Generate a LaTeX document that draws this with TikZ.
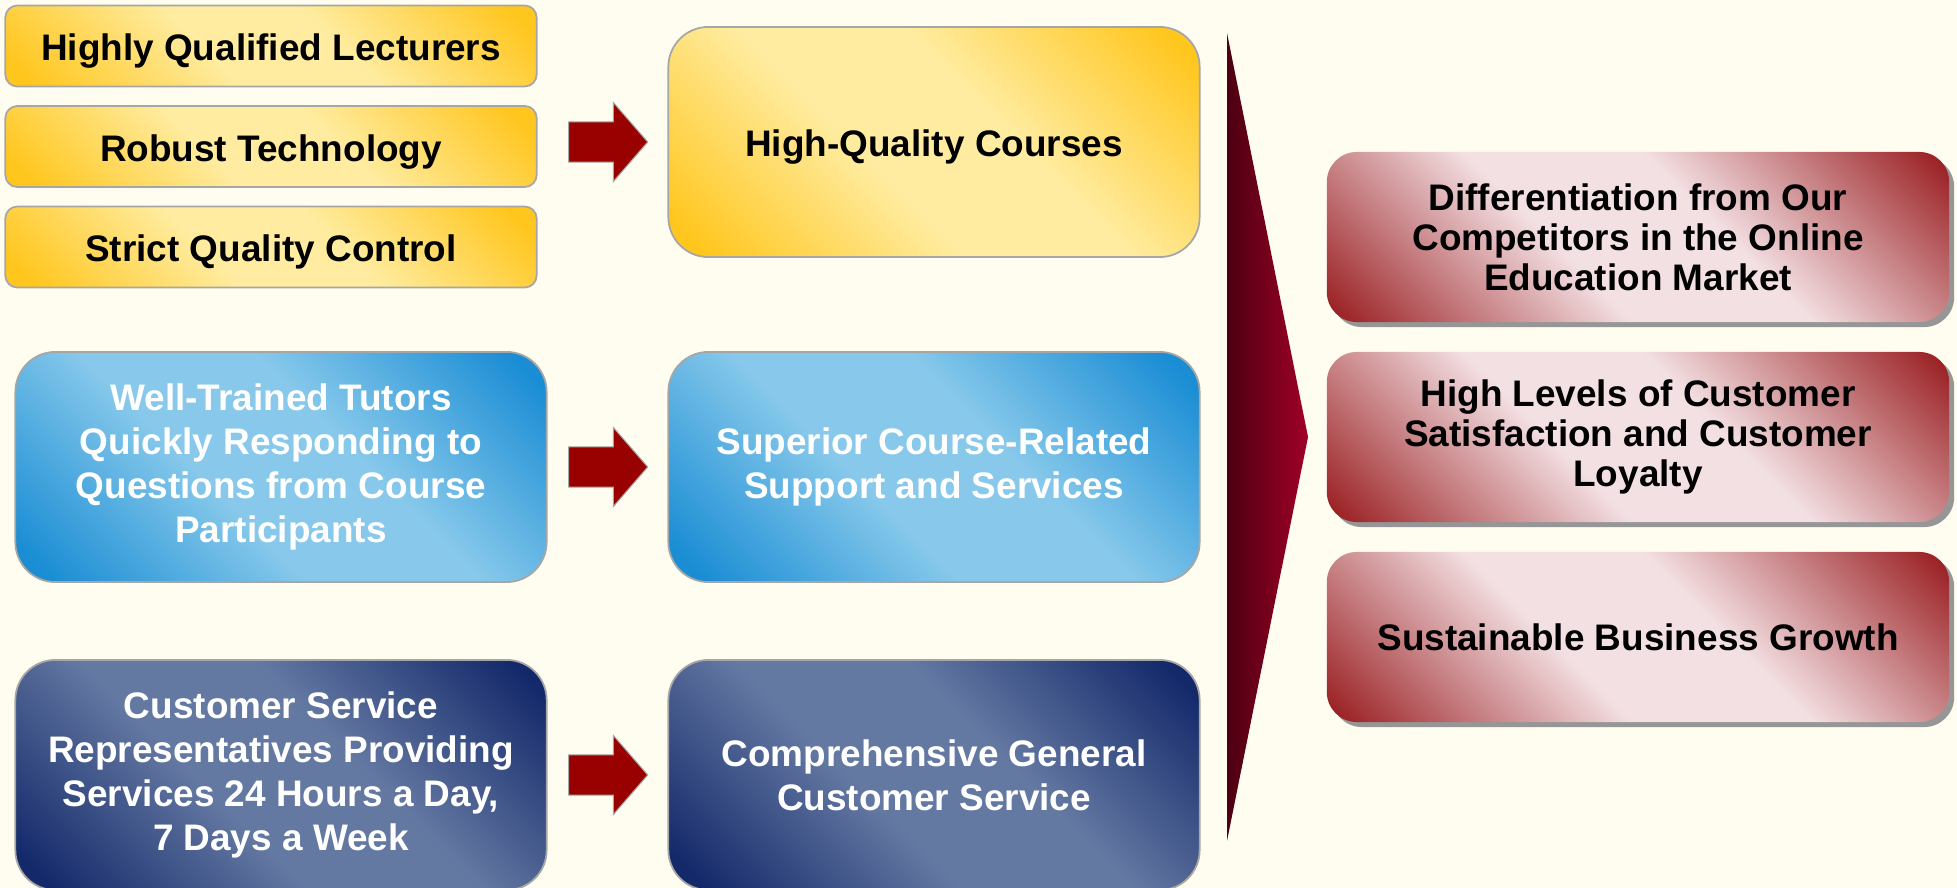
\documentclass[tikz,border=0pt]{standalone}
\usepackage{fontspec}
\setmainfont{Liberation Sans}
\usetikzlibrary{shapes.arrows, shadows, calc}
\definecolor{bgcream}{RGB}{255, 253, 240}
\definecolor{yellowdark}{RGB}{255, 198, 30}
\definecolor{yellowlight}{RGB}{255, 236, 160}
\definecolor{skydark}{RGB}{26, 141, 212}
\definecolor{skylight}{RGB}{136, 201, 235}
\definecolor{navydark}{RGB}{20, 41, 106}
\definecolor{navylight}{RGB}{100, 121, 162}
\definecolor{winedark}{RGB}{152, 27, 30}
\definecolor{winelight}{RGB}{243, 224, 227}
\definecolor{arrowred}{RGB}{153, 0, 0}
\definecolor{chevrondark}{RGB}{76, 0, 18}
\definecolor{chevronlight}{RGB}{160, 0, 38}
\definecolor{edgegray}{RGB}{166, 166, 166}
\definecolor{shadowgray}{RGB}{150, 150, 150}
\pgfdeclareverticalshading{yellowglow}{100bp}{color(0bp)=(yellowdark); color(18bp)=(yellowdark); color(42bp)=(yellowlight); color(58bp)=(yellowlight); color(82bp)=(yellowdark); color(100bp)=(yellowdark)}
\pgfdeclareverticalshading{skyglow}{100bp}{color(0bp)=(skydark); color(18bp)=(skydark); color(42bp)=(skylight); color(58bp)=(skylight); color(82bp)=(skydark); color(100bp)=(skydark)}
\pgfdeclareverticalshading{navyglow}{100bp}{color(0bp)=(navydark); color(18bp)=(navydark); color(42bp)=(navylight); color(58bp)=(navylight); color(82bp)=(navydark); color(100bp)=(navydark)}
\pgfdeclareverticalshading{wineglow}{100bp}{color(0bp)=(winedark); color(15bp)=(winedark); color(42bp)=(winelight); color(58bp)=(winelight); color(85bp)=(winedark); color(100bp)=(winedark)}

\begin{document}
\begin{tikzpicture}[x=0.01cm, y=-0.01cm,
		box/.style={draw=edgegray, line width=0.5pt, inner sep=0pt, align=center, font=\bfseries\fontsize{10.5}{12.5}\selectfont},
		lowtext/.style={execute at begin node={\rule{0pt}{3.7mm}}},
		smallbox/.style={box, lowtext, shading=yellowglow, shading angle=-45, rounded corners=0.12cm, minimum width=5.31cm, minimum height=0.81cm},
		bigbox/.style={box, lowtext, rounded corners=0.4cm, minimum width=5.31cm, minimum height=2.3cm},
		yellowbox/.style={bigbox, shading=yellowglow, shading angle=-45},
		skybox/.style={bigbox, shading=skyglow, shading angle=-45, text=white},
		navybox/.style={bigbox, shading=navyglow, shading angle=-45, text=white},
		winebox/.style={box, draw=none, shading=wineglow, shading angle=-45, rounded corners=0.3cm, minimum width=6.22cm, minimum height=1.7cm, font=\bfseries\fontsize{10.5}{11.4}\selectfont, drop shadow={shadow xshift=0.05cm, shadow yshift=-0.05cm, fill=shadowgray, opacity=1}},
		blockarrow/.style={single arrow, fill=arrowred, draw=edgegray, line width=0.3pt, inner sep=0pt, inner ysep=0.195cm, minimum height=0.79cm, single arrow head extend=0.195cm, single arrow tip angle=98, single arrow head indent=0pt}]
	\fill[bgcream] (0,0) rectangle (1957,888);
	\useasboundingbox (0,0) rectangle (1957,888);
	% what goes in
	\foreach \t [count=\i] in {Highly Qualified Lecturers, Robust Technology, Strict Quality Control}
		\node[smallbox] (in\i) at (271, {46+100.5*(\i-1)}) {\t};
	\node[skybox] (tutors) at (281,467) {Well-Trained Tutors\\Quickly Responding to\\Questions from Course\\Participants};
	\node[navybox] (reps) at (281,775) {Customer Service\\Representatives Providing\\Services 24 Hours a Day,\\7 Days a Week};
	% what we offer
	\node[yellowbox] (courses) at (934,142) {High-Quality Courses};
	\node[skybox] (support) at (934,467) {Superior Course-Related\\Support and Services};
	\node[navybox] (service) at (934,775) {Comprehensive General\\Customer Service};
	\node[blockarrow] (a1) at ($(courses.west)+(-68,0)$) {};
	\node[blockarrow] (a2) at ($(support.west)+(-68,0)$) {};
	\node[blockarrow] (a3) at ($(service.west)+(-68,0)$) {};
	% big chevron
	\shade[left color=chevrondark, right color=chevronlight] (1227,33) -- (1227,841) -- (1308,437) -- cycle;
	% results
	\foreach \t [count=\i] in {{Differentiation from Our\\Competitors in the Online\\Education Market}, {High Levels of Customer\\Satisfaction and Customer\\Loyalty}, Sustainable Business Growth}
		\node[winebox] (out\i) at (1638, {237+200*(\i-1)}) {\t};
\end{tikzpicture}
\end{document}
